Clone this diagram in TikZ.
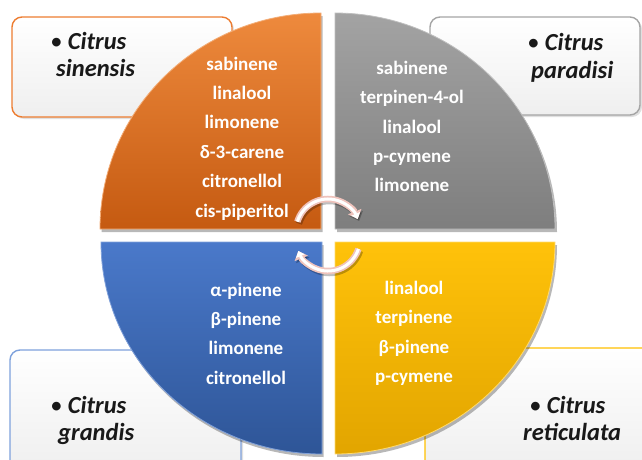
\documentclass[tikz,border=0pt]{standalone}
\usepackage{fontspec}
\setmainfont{Carlito}
\usetikzlibrary{arrows.meta}
\definecolor{orTop}{HTML}{EE8A3D}
\definecolor{orBot}{HTML}{C55A11}
\definecolor{orLine}{HTML}{ED7D31}
\definecolor{grTop}{HTML}{A3A3A3}
\definecolor{grBot}{HTML}{7E7E7E}
\definecolor{grLine}{HTML}{A5A5A5}
\definecolor{blTop}{HTML}{4A79CA}
\definecolor{blBot}{HTML}{2E5597}
\definecolor{blLine}{HTML}{7EA1DC}
\definecolor{yeTop}{HTML}{FFC20A}
\definecolor{yeBot}{HTML}{E2A500}
\definecolor{yeLine}{HTML}{FFC000}
\definecolor{calBot}{HTML}{EFEFEF}
\definecolor{arrPink}{HTML}{EFC3BC}
\newcommand{\mybul}{{\mdseries•}}
\begin{document}
\begin{tikzpicture}[x=1pt,y=1pt,
  callout/.style={rounded corners=10pt, line width=1.4pt, top color=white, bottom color=calBot},
  calshadow/.style={rounded corners=10pt, fill=black, opacity=0.12},
  qshadow/.style={fill=black, opacity=0.28},
  lbl/.style={font=\fontsize{24.5}{28}\selectfont\bfseries\itshape, anchor=base west, inner sep=0pt, text=black!90},
  comp/.style={text=white, font=\fontsize{19}{29.4}\selectfont\bfseries, align=center, inner sep=0pt},
  arrout/.style={draw=arrPink, line width=6.5pt, -{Triangle[length=8pt,width=14pt]}},
  arrin/.style={draw=white, line width=3pt, -{Triangle[length=5.5pt,width=9pt]}},
  arrshadow/.style={draw=black, opacity=0.25, line width=6.5pt, -{Triangle[length=8pt,width=14pt]}},
]
\useasboundingbox (0,0) rectangle (642,459);
% callout boxes
\fill[calshadow] (14,340) rectangle (234,440);
\path[callout, draw=orLine] (12,342) rectangle (232,442);
\fill[calshadow] (432,342) rectangle (642,440);
\path[callout, draw=grLine] (430,344) rectangle (640,442);
\fill[calshadow] (12,-13) rectangle (243,107);
\path[callout, draw=blLine] (10,-11) rectangle (241,109);
\fill[calshadow] (427,-13) rectangle (660,109);
\path[callout, draw=yeLine] (425,-11) rectangle (660,111);
% callout labels
\node[lbl] (tl1) at (50,409) {\mybul{} Citrus};
\node[lbl] (tl2) at (56,382) {sinensis};
\node[lbl] (tr1) at (527,408) {\mybul{} Citrus};
\node[lbl] (tr2) at (531,381) {paradisi};
\node[lbl] (bl1) at (50,46) {\mybul{} Citrus};
\node[lbl] (bl2) at (58,19) {grandis};
\node[lbl] (br1) at (529,46) {\mybul{} Citrus};
\node[lbl] (br2) at (523,19) {reticulata};
% quadrant shadows
\fill[qshadow] (322.5,227) -- (101.5,227) arc[start angle=180,end angle=90,x radius=221,y radius=216] -- cycle;
\fill[qshadow] (337,227) -- (337,443) arc[start angle=90,end angle=0,x radius=220,y radius=216] -- cycle;
\fill[qshadow] (323.5,214) -- (102.5,214) arc[start angle=180,end angle=270,x radius=221,y radius=212] -- cycle;
\fill[qshadow] (337,214) -- (337,2) arc[start angle=270,end angle=360,x radius=220,y radius=212] -- cycle;
% quadrants
\path[top color=orTop, bottom color=orBot, draw=orTop!70!white, line width=0.8pt]
  (321,230) -- (100,230) arc[start angle=180,end angle=90,x radius=221,y radius=216] -- cycle;
\path[top color=grTop, bottom color=grBot, draw=grTop!70!white, line width=0.8pt]
  (335,230) -- (335,446) arc[start angle=90,end angle=0,x radius=220,y radius=216] -- cycle;
\path[top color=blTop, bottom color=blBot, draw=blTop!70!white, line width=0.8pt]
  (322,217) -- (101,217) arc[start angle=180,end angle=270,x radius=221,y radius=212] -- cycle;
\path[top color=yeTop, bottom color=yeBot, draw=yeTop!60!white, line width=0.8pt]
  (335,217) -- (335,5) arc[start angle=270,end angle=360,x radius=220,y radius=212] -- cycle;
% quadrant texts
\node[comp] (qo) at (242,320.5) {sabinene\\linalool\\limonene\\δ-3-carene\\citronellol\\cis-piperitol};
\node[comp] (qg) at (412,332.5) {sabinene\\terpinen-4-ol\\linalool\\p-cymene\\limonene};
\node[comp] (qb) at (246,125.5) {α-pinene\\β-pinene\\limonene\\citronellol};
\node[comp] (qy) at (414,125.5) {linalool\\terpinene\\β-pinene\\p-cymene};
% circular arrows
\coordinate (ctop) at (328,228);
\coordinate (cbot) at (328,220);
\draw[arrshadow] ([shift={(163:32)}]ctop) ++(1.5,-2) arc[start angle=163,end angle=22,radius=32];
\draw[arrshadow] ([shift={(-18:32)}]cbot) ++(1.5,-2) arc[start angle=-18,end angle=-158,radius=32];
\draw[arrout] ([shift={(163:32)}]ctop) arc[start angle=163,end angle=22,radius=32];
\draw[arrin] ([shift={(163:32)}]ctop) arc[start angle=163,end angle=22,radius=32];
\draw[arrout] ([shift={(-18:32)}]cbot) arc[start angle=-18,end angle=-158,radius=32];
\draw[arrin] ([shift={(-18:32)}]cbot) arc[start angle=-18,end angle=-158,radius=32];
\end{tikzpicture}
\end{document}
